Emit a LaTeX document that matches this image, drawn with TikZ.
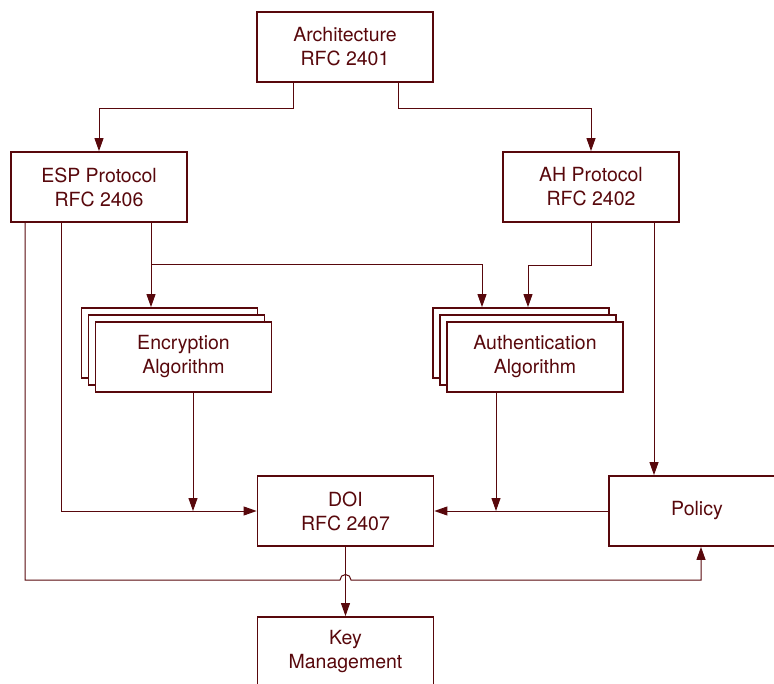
\documentclass[tikz,border=0pt]{standalone}
\usepackage{fontspec}
\setmainfont{TeX Gyre Heros}
\usetikzlibrary{arrows.meta,calc}
\definecolor{ink}{RGB}{88,8,12}
\begin{document}
\begin{tikzpicture}[x=1pt,y=-1pt,
  box/.style={draw=ink,line width=1.8pt,fill=white,minimum width=176pt,minimum height=70pt,inner sep=0pt,
    text=ink,align=center,font=\fontsize{19.5}{24}\selectfont},
  conn/.style={draw=ink,line width=1pt},
  arr/.style={conn,-{Triangle[width=9pt,length=13pt]}}]
\useasboundingbox (0,0) rectangle (774,684);
% nodes
\node[box] (arch) at (345,47) {Architecture\\RFC 2401};
\node[box] (esp) at (99,187) {ESP Protocol\\RFC 2406};
\node[box] (ah) at (591,187) {AH Protocol\\RFC 2402};
\node[box] (enc3) at (169.5,343) {};
\node[box] (enc2) at (176.5,350) {};
\node[box] (enc) at (183.5,357) {Encryption\\Algorithm};
\node[box] (auth3) at (521,343) {};
\node[box] (auth2) at (528,350) {};
\node[box] (auth) at (535,357) {Authentication\\Algorithm};
\node[box] (doi) at (345.5,511) {DOI\\RFC 2407};
\node[box] (pol) at (697,511) {Policy};
\node[box] (key) at (345.5,652) {Key\\Management};
% helper coordinates
\coordinate (e1) at ([xshift=52pt]esp.south);
\coordinate (j1) at (151,265);
\coordinate (a1) at ([xshift=-39pt]auth3.north);
\coordinate (a2) at ([xshift=7pt]auth3.north);
\coordinate (p1) at ([xshift=63pt]ah.south);
\coordinate (p2) at ([xshift=4pt]pol.south);
\coordinate (n1) at ([xshift=9.5pt]enc.south);
\coordinate (n2) at ([xshift=-39pt]auth.south);
\coordinate (h1) at (340,580);
% connectors
\draw[arr] ([xshift=-52pt]arch.south) -- ++(0,26) -| (esp.north);
\draw[arr] ([xshift=53pt]arch.south) -- ++(0,26) -| (ah.north);
\draw[arr] ([xshift=-74pt]esp.south) |- (h1) arc[start angle=180,end angle=0,radius=5.5pt] -| (p2);
\draw[arr] ([xshift=-38pt]esp.south) |- (doi.west);
\draw[arr] (e1) -- (e1 |- enc3.north);
\draw[arr] (j1) -| (a1);
\draw[arr] (ah.south) -- ++(0,43) -| (a2);
\draw[arr] (p1) -- (p1 |- pol.north);
\draw[arr] (n1) -- (n1 |- doi.west);
\draw[arr] (n2) -- (n2 |- doi.west);
\draw[arr] (pol.west) -- (doi.east);
\draw[arr] (doi.south) -- (key.north);
\end{tikzpicture}
\end{document}
